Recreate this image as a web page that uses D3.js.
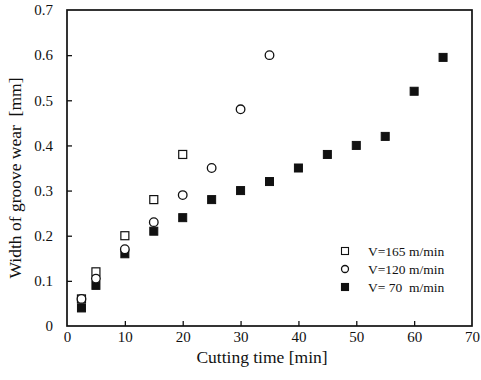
<!DOCTYPE html>
<html>
<head>
<meta charset="utf-8">
<script src="https://cdn.jsdelivr.net/npm/d3@7"></script>
<style>
  body { margin: 0; background: #fff; }
  text { font-family: "Liberation Serif", "Times New Roman", serif; fill: #111; }
</style>
</head>
<body>
<div id="chart"></div>
<script>
// cutting time [min] and groove wear width [mm]
const time165 = [2.5, 5, 10, 15, 20];
const wear165 = [0.06, 0.12, 0.20, 0.28, 0.38];

const time120 = [2.5, 5, 10, 15, 20, 25, 30, 35];
const wear120 = [0.06, 0.105, 0.17, 0.23, 0.29, 0.35, 0.48, 0.60];

const time70 = [2.5, 5, 10, 15, 20, 25, 30, 35, 40, 45, 50, 55, 60, 65];
const wear70 = [0.04, 0.09, 0.16, 0.21, 0.24, 0.28, 0.30, 0.32, 0.35, 0.38, 0.40, 0.42, 0.52, 0.595];

const xTicks = [0, 10, 20, 30, 40, 50, 60, 70];
const yTicks = [0, 0.1, 0.2, 0.3, 0.4, 0.5, 0.6, 0.7];
const legendLabels = ["V=165 m/min", "V=120 m/min", "V= 70  m/min"];

const W = 481, H = 380;
const margin = { top: 10, right: 9, bottom: 54, left: 67 };

const svg = d3.select("#chart").append("svg")
    .attr("width", W)
    .attr("height", H);

const x = d3.scaleLinear().domain([0, 70]).range([margin.left, W - margin.right]);
const y = d3.scaleLinear().domain([0, 0.7]).range([H - margin.bottom, margin.top]);

// frame
svg.append("rect")
    .attr("x", x(0)).attr("y", y(0.7))
    .attr("width", x(70) - x(0)).attr("height", y(0) - y(0.7))
    .attr("fill", "none").attr("stroke", "#111").attr("stroke-width", 1.7);

// bottom axis, ticks inward
const xAxis = svg.append("g")
    .attr("transform", `translate(0,${y(0)})`)
    .call(d3.axisBottom(x).tickValues(xTicks).tickSizeInner(-5).tickSizeOuter(0).tickPadding(5).tickFormat(d3.format("d")));
xAxis.select(".domain").remove();
xAxis.selectAll(".tick line").attr("stroke", "#111").attr("stroke-width", 1.3)
    .filter(d => d === 0 || d === 70).remove();
xAxis.selectAll("text").attr("font-size", 15).attr("fill", "#111");

// left axis, ticks inward
const yAxis = svg.append("g")
    .attr("transform", `translate(${x(0)},0)`)
    .call(d3.axisLeft(y).tickValues(yTicks).tickSizeInner(-5).tickSizeOuter(0).tickPadding(14).tickFormat(d => d === 0 ? "0" : d3.format(".1f")(d)));
yAxis.select(".domain").remove();
yAxis.selectAll(".tick line").attr("stroke", "#111").attr("stroke-width", 1.3)
    .filter(d => d === 0 || d === 0.7).remove();
yAxis.selectAll("text").attr("font-size", 15).attr("fill", "#111");

// axis titles
svg.append("text")
    .attr("x", 262)
    .attr("y", 363)
    .attr("text-anchor", "middle")
    .attr("font-size", 17.5)
    .text("Cutting time [min]");

svg.append("text")
    .attr("transform", `translate(21,178) rotate(-90)`)
    .attr("text-anchor", "middle")
    .attr("font-size", 17.5)
    .attr("xml:space", "preserve")
    .style("white-space", "pre")
    .text("Width of groove wear  [mm]");

// markers
const sq = 8;
function drawSquares(xs, ys, filled) {
    svg.append("g").selectAll("rect")
        .data(xs.map((d, i) => [d, ys[i]]))
        .enter()
        .append("rect")
        .attr("x", d => x(d[0]) - sq / 2)
        .attr("y", d => y(d[1]) - sq / 2)
        .attr("width", sq).attr("height", sq)
        .attr("fill", filled ? "#111" : "#fff")
        .attr("stroke", "#111")
        .attr("stroke-width", filled ? 1 : 1.2);
}

drawSquares(time70, wear70, true);
drawSquares(time165, wear165, false);

svg.append("g").selectAll("circle")
    .data(time120.map((d, i) => [d, wear120[i]]))
    .enter()
    .append("circle")
    .attr("cx", d => x(d[0]))
    .attr("cy", d => y(d[1]))
    .attr("r", 4.3)
    .attr("fill", "#fff")
    .attr("stroke", "#111")
    .attr("stroke-width", 1.3);

// legend
const legend = svg.append("g").attr("transform", "translate(345,251)");
const rowGap = 18;
legendLabels.forEach((lab, i) => {
    const g = legend.append("g").attr("transform", `translate(0,${i * rowGap})`);
    if (i === 1) {
        g.append("circle").attr("r", 3.5).attr("fill", "#fff").attr("stroke", "#111").attr("stroke-width", 1.3);
    } else {
        g.append("rect").attr("x", -3.5).attr("y", -3.5).attr("width", 7).attr("height", 7)
            .attr("fill", i === 2 ? "#111" : "#fff").attr("stroke", "#111").attr("stroke-width", 1.1);
    }
    g.append("text")
        .attr("x", 23).attr("y", 4.5)
        .attr("font-size", 13.5)
        .attr("xml:space", "preserve")
        .style("white-space", "pre")
        .text(lab);
});
</script>
</body>
</html>
